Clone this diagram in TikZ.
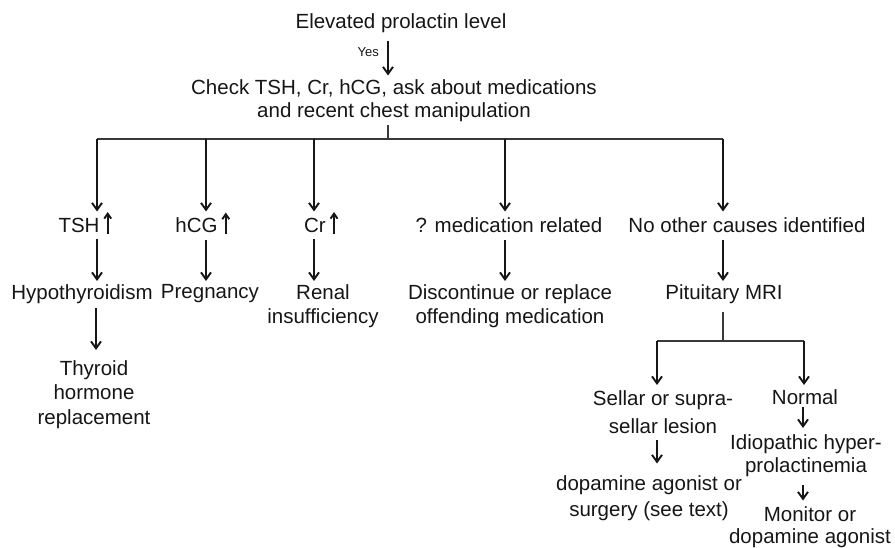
\documentclass[tikz,border=0pt]{standalone}
\usepackage{fontspec}
\setmainfont{Liberation Sans}
\usetikzlibrary{arrows.meta,calc}
\definecolor{ink}{HTML}{161616}
\definecolor{wire}{HTML}{161616}
\tikzset{
  txt/.style={font=\fontsize{20.5}{24}\selectfont, text=ink, inner sep=0pt,
    align=center, anchor=north},
  small/.style={font=\fontsize{13}{15}\selectfont, text=ink, inner sep=0pt},
  arr/.style={draw=wire, line width=1.9pt,
    -{Straight Barb[length=7pt,width=10pt,line width=1.9pt]}},
  uparr/.style={draw=wire, line width=1.9pt,
    -{Straight Barb[length=5pt,width=7pt,line width=1.9pt]}},
  bus/.style={draw=wire!85, line width=1.2pt},
}
\begin{document}
\begin{tikzpicture}[x=1pt,y=-1pt]
\path[use as bounding box] (0,0) rectangle (895,548);

% --- text nodes ---
\node[txt] (top)    at (401,13.5)  {Elevated prolactin level};
\node[txt, font=\fontsize{20.5}{23}\selectfont] (check) at (394,79.5)
  {Check TSH, Cr, hCG, ask about medications\\and recent chest manipulation};

\node[txt] (tsh) at (79,217.5)    {TSH};
\node[txt] (hcg) at (196.5,217.5) {hCG};
\node[txt] (cr)  at (315,217.5)   {Cr};
\node[txt] (med) at (509,217.5)   {? medication related};
\node[txt] (noc) at (747,217.5)   {No other causes identified};

\node[txt] (hypo)  at (82,284.5)  {Hypothyroidism};
\node[txt] (preg)  at (210,284.5) {Pregnancy};
\node[txt] (renal) at (323,284.5) {Renal\\insufficiency};
\node[txt] (disc)  at (510,284.5) {Discontinue or replace\\offending medication};
\node[txt] (mri)   at (724,284.5) {Pituitary MRI};

\node[txt, font=\fontsize{20.5}{24.5}\selectfont] (thyr) at (94,360)
  {Thyroid\\hormone\\replacement};

\node[txt, font=\fontsize{20.5}{28}\selectfont] (sellar) at (663,390.5)
  {Sellar or supra-\\sellar lesion};
\node[txt, font=\fontsize{20.5}{26}\selectfont] (dopa) at (649,475.5)
  {dopamine agonist or\\surgery (see text)};
\node[txt] (normal) at (805,389.5) {Normal};
\node[txt, font=\fontsize{20.5}{23}\selectfont] (idio) at (806,434.5)
  {Idiopathic hyper-\\prolactinemia};
\node[txt, font=\fontsize{20.5}{22.5}\selectfont] (mon) at (810,506)
  {Monitor or\\dopamine agonist};

% --- raised-level arrows after the lab values ---
\foreach \n in {tsh,hcg,cr}
  \draw[uparr] ($(\n.base east)+(8,1.5)$) -- ++(0,-21.5);

% --- branch points ---
\coordinate (bx) at (388,139);
\coordinate (b1) at (97,139);
\coordinate (b2) at (206,139);
\coordinate (b3) at (314,139);
\coordinate (b4) at (505,139);
\coordinate (b5) at (723,139);
\coordinate (sx) at (723,341);
\coordinate (s1) at (657,341);
\coordinate (s2) at (804,341);

% --- top question ---
\draw[arr, shorten <=8pt, shorten >=4pt] (top.south -| bx) -- (check.north -| bx);
\node[small, anchor=east] (yes) at (379,52) {Yes};

% --- fan-out to the five work-up results ---
\draw[bus, shorten <=3pt] (check.south -| bx) -- (bx);
\draw[bus] (b1) -- (b5);
\draw[arr, shorten >=6pt] (b1) -- (tsh.north -| b1);
\draw[arr, shorten >=6pt] (b2) -- (hcg.north -| b2);
\draw[arr, shorten >=6pt] (b3) -- (cr.north -| b3);
\draw[arr, shorten >=6pt] (b4) -- (med.north -| b4);
\draw[arr, shorten >=6pt] (b5) -- (noc.north -| b5);

% --- results to diagnoses ---
\draw[arr, shorten <=7pt, shorten >=3.5pt] (tsh.south -| b1) -- (hypo.north -| b1);
\draw[arr, shorten <=7pt, shorten >=3.5pt] (hcg.south -| b2) -- (preg.north -| b2);
\draw[arr, shorten <=7pt, shorten >=3.5pt] (cr.south -| b3)  -- (renal.north -| b3);
\draw[arr, shorten <=7pt, shorten >=3.5pt] (med.south -| b4) -- (disc.north -| b4);
\draw[arr, shorten <=7pt, shorten >=3.5pt] (noc.south -| b5) -- (mri.north -| b5);

\draw[arr, shorten <=4pt, shorten >=10pt] (hypo.south -| 96,0) -- (thyr.north -| 96,0);

% --- imaging branch ---
\draw[bus, shorten <=8pt] (mri.south -| sx) -- (sx);
\draw[bus] (s1) -- (s2);
\draw[arr, shorten >=5.5pt] (s1) -- (sellar.north -| s1);
\draw[arr, shorten >=4.5pt] (s2) -- (normal.north -| s2);
\draw[arr, shorten <=6.5pt, shorten >=12pt] (sellar.south -| s1) -- (dopa.north -| s1);
\draw[arr, shorten <=2.5pt, shorten >=6.5pt] (normal.south -| 803,0) -- (idio.north -| 803,0);
\draw[arr, shorten <=8pt, shorten >=5.5pt] (idio.south -| 803,0) -- (mon.north -| 803,0);
\end{tikzpicture}
\end{document}
